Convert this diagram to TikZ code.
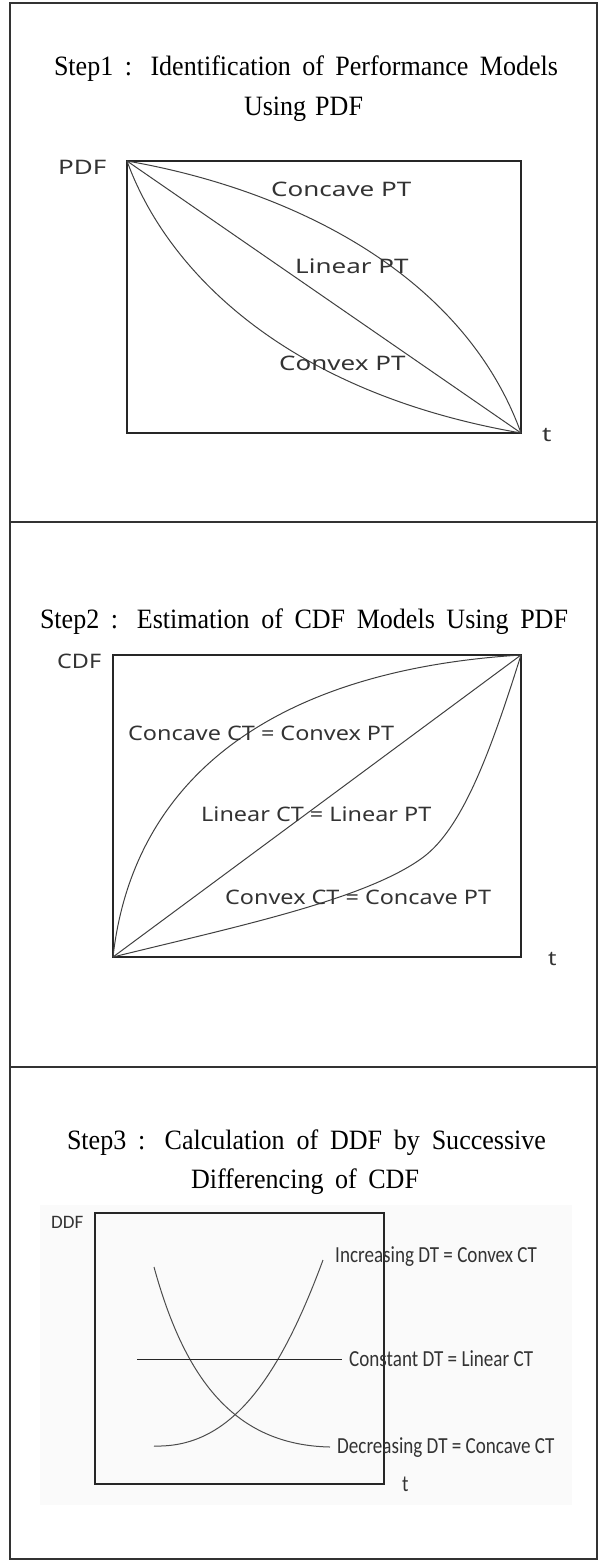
\documentclass[tikz,border=0pt]{standalone}
\usepackage{fontspec}
\setmainfont{Liberation Serif}
\newfontfamily\titlefont[FakeStretch=0.93]{Liberation Serif}
\newfontfamily\lblA[FakeStretch=1.3]{Noto Sans}
\newfontfamily\lblB[FakeStretch=1.17]{Noto Sans}
\newfontfamily\lblC[FakeStretch=0.83]{Carlito}
\newfontfamily\lblD{Carlito}
\begin{document}
\begin{tikzpicture}[x=1pt,y=-1pt,
  title/.style={inner sep=0pt, anchor=base, font=\titlefont\fontsize{28}{28}\selectfont, text=black},
  frame/.style={draw=black!80, line width=1.2pt},
  chartbox/.style={draw=black!85, line width=1.3pt},
  curve/.style={draw=black!75, line width=1pt},
  curveC/.style={draw=black!70, line width=1pt},
  labA/.style={inner sep=0pt, anchor=base west, font=\lblA\fontsize{20}{20}\selectfont, text=black!80},
  labB/.style={inner sep=0pt, anchor=base west, font=\lblB\fontsize{20}{20}\selectfont, text=black!80},
  labC/.style={inner sep=0pt, anchor=base west, font=\lblC\fontsize{23}{23}\selectfont, text=black!80},
  labD/.style={inner sep=0pt, anchor=base west, font=\lblD\fontsize{19}{19}\selectfont, text=black!80}
]
\useasboundingbox (0,0) rectangle (602,1562);

% outer frame and dividers
\coordinate (f-tl) at (10,3);
\coordinate (f-br) at (597,1559);
\coordinate (d1-l) at (10,522);
\coordinate (d1-r) at (597,522);
\coordinate (d2-l) at (10,1067);
\coordinate (d2-r) at (597,1067);
\draw[frame] (f-tl) rectangle (f-br);
\draw[frame] (d1-l) -- (d1-r);
\draw[frame] (d2-l) -- (d2-r);

% ---------- Step 1 ----------
\node[title] (t1a) at (306,76) {\makebox[504pt][s]{Step1 : Identification of Performance Models}};
\node[title] (t1b) at (303.5,116) {\makebox[119pt][s]{Using PDF}};

\coordinate (p-tl) at (127,161);
\coordinate (p-br) at (521,433);
\draw[chartbox] (p-tl) rectangle (p-br);
\draw[curve] (p-tl) -- (p-br);
\draw[curve] (p-tl) .. controls (284.6,188.2) and (461.9,269.8) .. (p-br);
\draw[curve] (p-tl) .. controls (166.4,269.8) and (284.6,392.2) .. (p-br);

\node[labA] (pdf) at (58,175) {PDF};
\node[labA] (t-p) at (542,441) {t};
\node[labA] (concPT) at (271,197) {Concave PT};
\node[labA] (linPT) at (295,273) {Linear PT};
\node[labA] (convPT) at (279,370) {Convex PT};

% ---------- Step 2 ----------
\node[title] (t2) at (304,628) {\makebox[528pt][s]{Step2 : Estimation of CDF Models Using PDF}};

\coordinate (c-tl) at (113,655);
\coordinate (c-br) at (521,957);
\coordinate (c-bl) at (113,957);
\coordinate (c-tr) at (521,655);
\draw[chartbox] (c-tl) rectangle (c-br);
\draw[curve] (c-bl) -- (c-tr);
\draw[curve] (c-bl) .. controls (133.4,775.8) and (276.2,670.1) .. (c-tr);
\draw[curve] (c-bl) .. controls (235.4,926.8) and (366,899.6) .. (423.1,857.3)
                    .. controls (463.9,827.1) and (492.4,745.6) .. (c-tr);

\node[labB] (cdf) at (57,668) {CDF};
\node[labB] (t-c) at (548,965) {t};
\node[labB] (concCT) at (128,740.5) {Concave CT = Convex PT};
\node[labB] (linCT) at (201,821) {Linear CT = Linear PT};
\node[labB] (convCT) at (225,904) {Convex CT = Concave PT};

% ---------- Step 3 ----------
\node[title] (t3a) at (306.5,1149) {\makebox[479pt][s]{Step3 : Calculation of DDF by Successive}};
\node[title] (t3b) at (305,1188) {\makebox[228pt][s]{Differencing of CDF}};

\fill[black!2] (40,1205) rectangle (572,1505);
\coordinate (d-tl) at (95,1213);
\coordinate (d-br) at (384,1484);
\draw[chartbox] (d-tl) rectangle (d-br);

\coordinate (dec-s) at (154,1267);
\coordinate (dec-e) at (330,1447);
\coordinate (inc-s) at (154,1446);
\coordinate (inc-e) at (323,1260);
\coordinate (con-s) at (137,1359);
\coordinate (con-e) at (342,1359);
\draw[curveC] (dec-s) .. controls (185,1380) and (235,1445) .. (dec-e);
\draw[curveC] (inc-s) .. controls (225,1448) and (275,1390) .. (inc-e);
\draw[curve, draw=black!85] (con-s) -- (con-e);

\node[labD] (ddf) at (51,1228) {DDF};
\node[labC] (t-d) at (402,1491) {t};
\node[labC] (incDT) at (335,1262) {Increasing DT = Convex CT};
\node[labC] (conDT) at (349,1366) {Constant DT = Linear CT};
\node[labC] (decDT) at (337,1453) {Decreasing DT = Concave CT};
\end{tikzpicture}
\end{document}
